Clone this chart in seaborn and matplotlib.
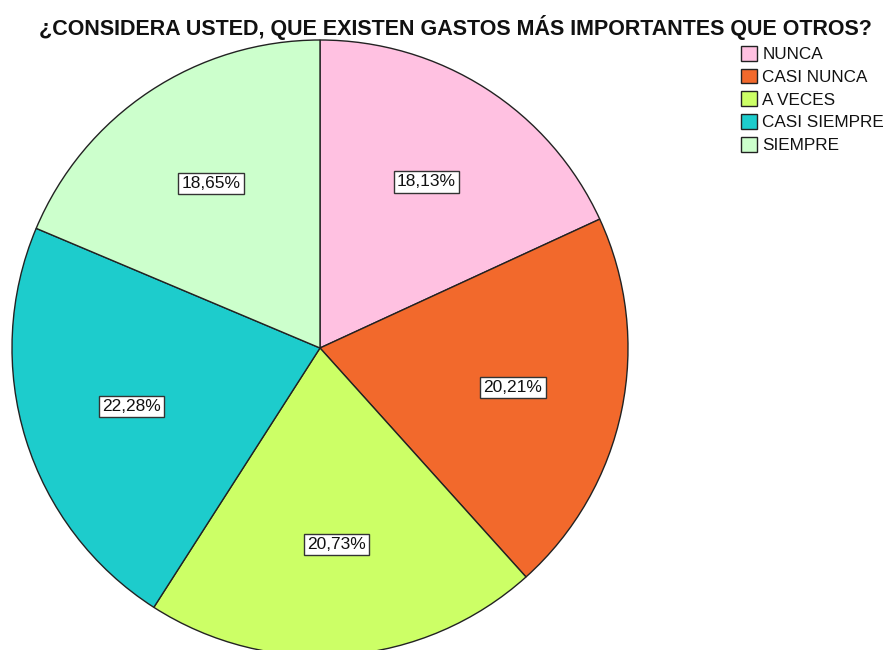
import matplotlib
matplotlib.use("Agg")
import matplotlib.pyplot as plt
import seaborn as sns

categories = ["NUNCA", "CASI NUNCA", "A VECES", "CASI SIEMPRE", "SIEMPRE"]
percentages = [18.13, 20.21, 20.73, 22.28, 18.65]
colors = ["#FFC1E1", "#F2692C", "#CCFF66", "#1DCCCC", "#CCFFCC"]
title = "¿CONSIDERA USTED, QUE EXISTEN GASTOS MÁS IMPORTANTES QUE OTROS?"

sns.set_theme(style="white")
plt.rcParams["font.family"] = ["Liberation Sans", "DejaVu Sans"]

fig = plt.figure(figsize=(8.91, 6.5), dpi=100)
ax = fig.add_axes([12 / 891, -6 / 650, 616 / 891, 616 / 650])

wedges, texts, autotexts = ax.pie(
    percentages,
    colors=colors,
    startangle=90,
    counterclock=False,
    radius=1,
    autopct=lambda p: f"{p:.2f}%".replace(".", ","),
    pctdistance=0.64,
    wedgeprops=dict(edgecolor="#222222", linewidth=1.0),
    textprops=dict(fontsize=12.5, color="#111111"),
)
for t in autotexts:
    t.set_bbox(dict(facecolor="white", edgecolor="#333333", linewidth=1.0, boxstyle="square,pad=0.18"))
ax.set_xlim(-1, 1)
ax.set_ylim(-1, 1)
ax.set_aspect("equal")
ax.axis("off")

fig.text(455 / 891, 1 - 28 / 650, title, ha="center", va="center",
         fontsize=15.5, fontweight="bold", color="#111111")

leg = fig.legend(wedges, categories, loc="upper left",
                 bbox_to_anchor=(729 / 891, 1 - 34 / 650),
                 frameon=False, fontsize=12.3, handlelength=0.95, handleheight=0.95,
                 handletextpad=0.3, labelspacing=0.38, borderpad=0.2)
for t in leg.get_texts():
    t.set_color("#111111")

fig.savefig("out.png", dpi=100, facecolor="white")
